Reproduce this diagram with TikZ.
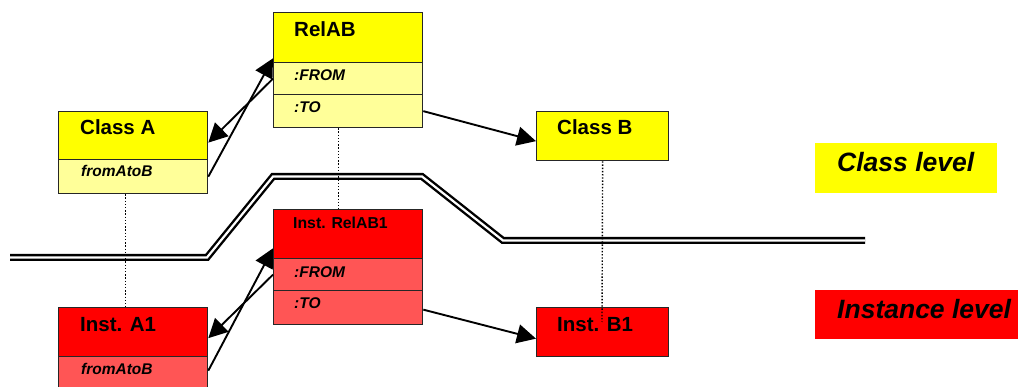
\documentclass[tikz,border=0pt]{standalone}
\usepackage{fontspec}
\setmainfont{Liberation Sans}
\usetikzlibrary{arrows.meta}
\definecolor{clsyel}{HTML}{FFFF00}
\definecolor{attyel}{HTML}{FFFF99}
\definecolor{insred}{HTML}{FF0000}
\definecolor{attred}{HTML}{FF5555}
\tikzset{
  box/.style={draw=black!85, line width=1.3pt, rectangle, inner sep=0pt, anchor=north west},
  clsbox/.style={box, fill=clsyel},
  clsatt/.style={box, fill=attyel},
  insbox/.style={box, fill=insred},
  insatt/.style={box, fill=attred},
  ttl/.style={inner sep=0pt, anchor=base west, font=\fontsize{20.5}{24}\selectfont\bfseries},
  smallttl/.style={inner sep=0pt, anchor=base west, font=\fontsize{15.8}{19}\selectfont\bfseries},
  att/.style={inner sep=0pt, anchor=base west, font=\fontsize{15.5}{19}\selectfont\bfseries\itshape},
  lvl/.style={inner sep=0pt, anchor=base west, font=\fontsize{26.5}{31}\selectfont\bfseries\itshape},
  lvlbox/.style={rectangle, inner sep=0pt, anchor=north west, draw=none},
  rel/.style={line width=1.9pt, -{Triangle[length=19pt,width=19pt]}},
  inst/.style={line width=1.4pt, dash pattern=on 1.4pt off 1.8pt},
  border/.style={line width=2.4pt, double=white, double distance=2.2pt, line join=miter}
}
\begin{document}
\begin{tikzpicture}[x=1pt,y=-1pt]
\clip (0,0) rectangle (1018,387);

% boundary between the two levels
\draw[border] (10,257.5) -- (207,257.5) -- (273,176.5) -- (422,176.5) -- (503,240.5) -- (865,240.5);

% level labels
\node[lvlbox, fill=clsyel, minimum width=182, minimum height=50] (lc) at (815,143) {};
\node[lvlbox, fill=insred, minimum width=215, minimum height=49] (li) at (815,290) {};
\node[lvl] (lct) at (837,172) {Class level};
\node[lvl] (lit) at (837,319) {Instance level};

% class level
\node[clsbox, minimum width=149, minimum height=48] (ah) at (58,111) {};
\node[clsatt, minimum width=149, minimum height=34] (aa) at (58,159) {};
\node[ttl] (aht) at (80,135) {Class A};
\node[att] (aat) at (81,177) {fromAtoB};

\node[clsbox, minimum width=149, minimum height=50] (rh) at (273,12) {};
\node[clsatt, minimum width=149, minimum height=32] (rf) at (273,62) {};
\node[clsatt, minimum width=149, minimum height=33] (rt) at (273,94) {};
\node[ttl] (rht) at (294,37) {RelAB};
\node[att] (rft) at (294,81) {:FROM};
\node[att] (rtt) at (294,113) {:TO};

\node[clsbox, minimum width=132, minimum height=49] (cb) at (536,111) {};
\node[ttl] (cbt) at (557,135) {Class B};

% instance level
\node[insbox, minimum width=149, minimum height=49] (ia) at (58,307) {};
\node[insatt, minimum width=149, minimum height=34] (iaa) at (58,356) {};
\node[ttl] (iat) at (80,332) {Inst. A1};
\node[att] (iaat) at (81,375) {fromAtoB};

\node[insbox, minimum width=149, minimum height=49] (irh) at (273,209) {};
\node[insatt, minimum width=149, minimum height=32] (irf) at (273,258) {};
\node[insatt, minimum width=149, minimum height=34] (irt) at (273,290) {};
\node[smallttl] (irht) at (293,229) {Inst. RelAB1};
\node[att] (irft) at (294,278) {:FROM};
\node[att] (irtt) at (294,309) {:TO};

\node[insbox, minimum width=132, minimum height=49] (ib) at (536,307) {};
\node[ttl] (ibt) at (557,332) {Inst. B1};

% instance-of links
\coordinate (bend) at (602,322);
\draw[inst] ([xshift=-7.5pt]aa.south) -- ([xshift=-7.5pt]ia.north);
\draw[inst] ([xshift=-9.5pt]rt.south) -- ([xshift=-9.5pt]irh.north);
\draw[inst] (cb.south) -- (bend);

% relationship links
\draw[rel] (rf.west) -- ([yshift=-7pt]ah.east);
\draw[rel] (aa.east) -- ([yshift=5pt]rh.south west);
\draw[rel] (rt.east) -- ([yshift=-5pt]cb.west);

\draw[rel] (irf.west) -- ([yshift=-6pt]ia.east);
\draw[rel] ([yshift=3pt]iaa.east) -- ([yshift=11pt]irh.south west);
\draw[rel] ([yshift=-2pt]irt.east) -- ([yshift=-6.5pt]ib.west);
\end{tikzpicture}
\end{document}
